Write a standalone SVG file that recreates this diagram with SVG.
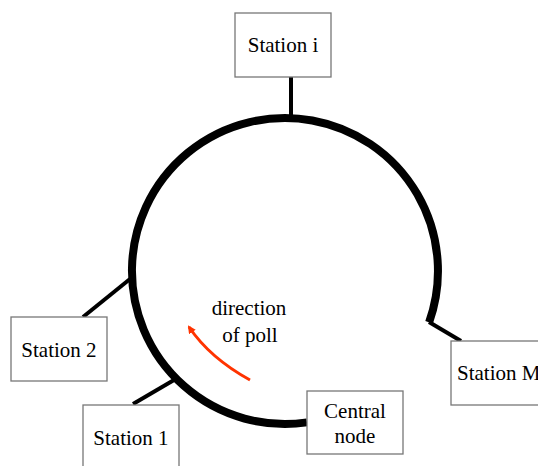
<svg xmlns="http://www.w3.org/2000/svg" width="538" height="466" viewBox="0 0 538 466">
<style>
.box{fill:#fff;stroke:#777;stroke-width:1.3}
.t{font-family:'Liberation Serif','Times New Roman','DejaVu Serif',serif;font-size:21px;fill:#000}
.link{stroke:#000;stroke-width:4;fill:none}
</style>
<defs>
<marker id="ah" markerWidth="8" markerHeight="8" refX="6" refY="4" orient="auto" markerUnits="userSpaceOnUse">
<path d="M0,0 L8,4 L0,8 Z" fill="#ff3300"/>
</marker>
</defs>
<g id="connectors">
<path d="M307,422.4 A153,153 0 1 1 429.1,322.3" fill="none" stroke="#000" stroke-width="8"/>
<path class="link" d="M429,322 L461,341" stroke-linejoin="round"/>
<line class="link" x1="291" y1="77" x2="291" y2="116"/>
<line class="link" x1="83" y1="317" x2="130" y2="279"/>
<line class="link" x1="133" y1="404" x2="174" y2="380"/>
<path d="M250,380 Q210,358 189,327" fill="none" stroke="#ff3300" stroke-width="3" marker-end="url(#ah)"/>
</g>
<g id="station-i">
<rect class="box" x="235" y="13" width="96" height="64"/>
<text class="t" x="283" y="52" text-anchor="middle" font-family="Liberation Serif, serif">Station i</text>
</g>
<g id="station-2">
<rect class="box" x="11" y="317" width="96" height="64"/>
<text class="t" x="59" y="357" text-anchor="middle">Station 2</text>
</g>
<g id="station-1">
<rect class="box" x="83" y="405" width="96" height="64"/>
<text class="t" x="131" y="445" text-anchor="middle">Station 1</text>
</g>
<g id="station-m">
<rect class="box" x="451" y="341" width="96" height="64"/>
<text class="t" x="457" y="380">Station M</text>
</g>
<g id="central-node">
<rect class="box" x="307" y="391" width="96" height="63"/>
<text class="t" x="355" y="418" text-anchor="middle">Central</text>
<text class="t" x="355" y="443" text-anchor="middle">node</text>
</g>
<g id="label">
<text class="t" x="249" y="315" text-anchor="middle">direction</text>
<text class="t" x="250" y="342" text-anchor="middle">of poll</text>
</g>
</svg>
